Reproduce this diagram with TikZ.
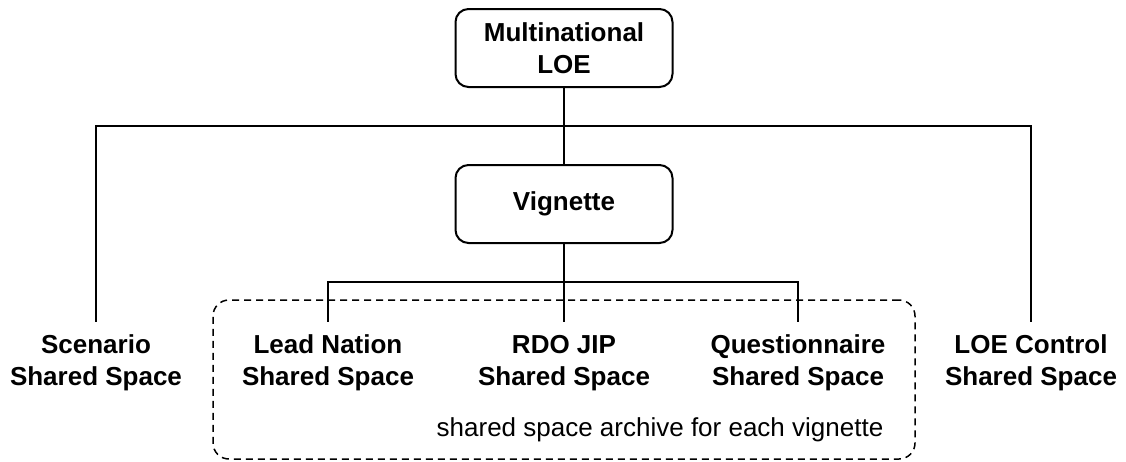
\documentclass[tikz,border=0pt]{standalone}
\usepackage{fontspec}
\setmainfont{Liberation Sans}
\begin{document}
\begin{tikzpicture}[x=1pt,y=-1pt,
  conn/.style={line width=2pt},
  boxnode/.style={draw, line width=2pt, rounded corners=13pt, minimum width=217pt, minimum height=78pt,
    align=center, font=\fontsize{26}{32}\selectfont\bfseries, inner sep=0pt},
  leaf/.style={align=center, font=\fontsize{26}{32}\selectfont\bfseries, inner xsep=0pt, inner ysep=12.75pt},
  archbox/.style={draw, dashed, dash pattern=on 7pt off 5pt, line width=1.5pt, rounded corners=16pt,
    minimum width=702pt, minimum height=159pt, inner sep=0pt},
  note/.style={font=\fontsize{26}{32}\selectfont, inner sep=0pt}]
\useasboundingbox (0,0) rectangle (1126,461);
\node[archbox] (arch) at (564,379.5) {};
\node[boxnode] (multi) at (564,48) {Multinational\\LOE};
\node[boxnode] (vig) at (564,204) {Vignette};
\node[leaf] (scen) at (96,363) {Scenario\\Shared Space};
\node[leaf] (lead) at (328,363) {Lead Nation\\Shared Space};
\node[leaf] (rdo) at (564,363) {RDO JIP\\Shared Space};
\node[leaf] (quest) at (798,363) {Questionnaire\\Shared Space};
\node[leaf] (loe) at (1031,363) {LOE Control\\Shared Space};
\node[note, anchor=base] (archtxt) at (660,436) {shared space archive for each vignette};
\coordinate (j1) at (564,126);
\coordinate (j2) at (564,282);
\draw[conn] (multi.south) -- (vig.north);
\draw[conn] (scen.north) -- (scen.north |- j1) -- (loe.north |- j1) -- (loe.north);
\draw[conn] (vig.south) -- (rdo.north);
\draw[conn] (lead.north) -- (lead.north |- j2) -- (quest.north |- j2) -- (quest.north);
\end{tikzpicture}
\end{document}
